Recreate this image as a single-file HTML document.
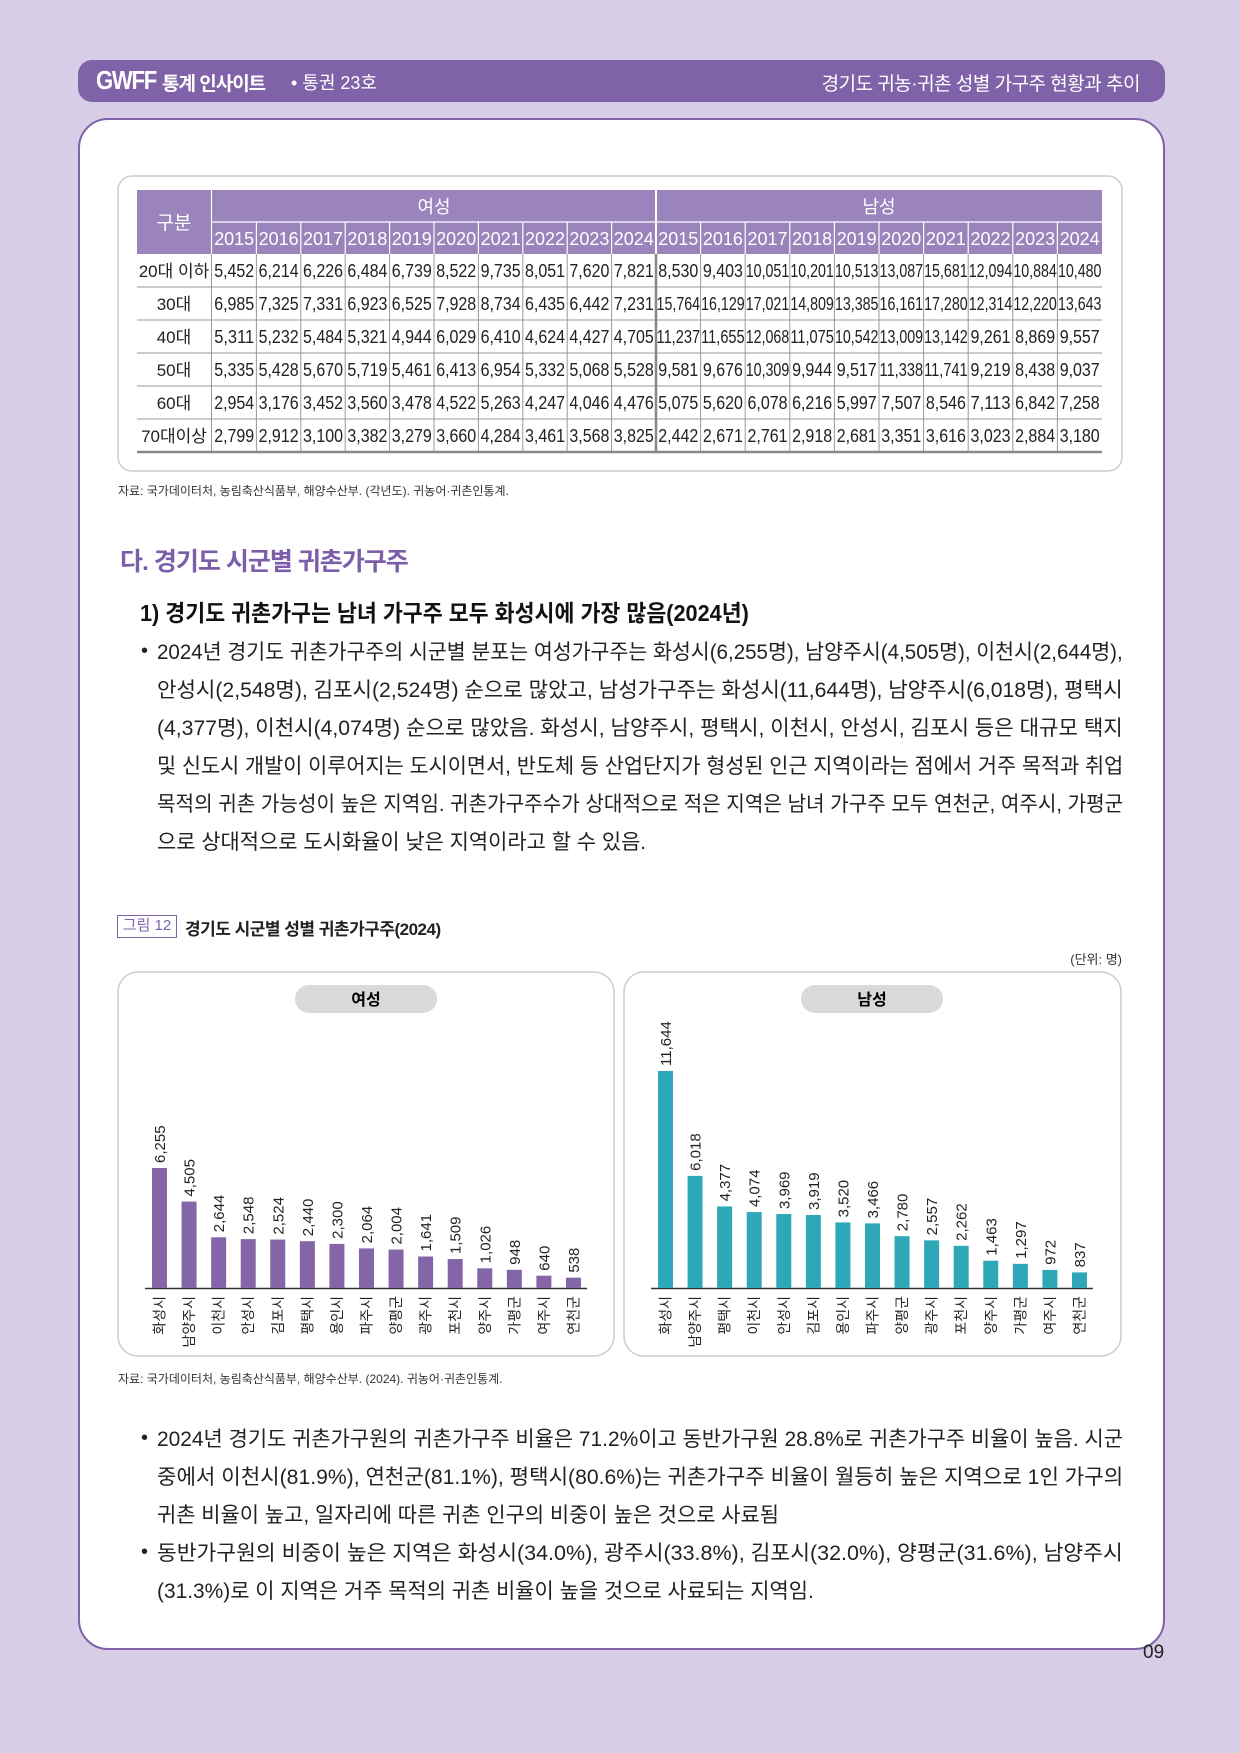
<!DOCTYPE html>
<html><head><meta charset="utf-8">
<style>
*{margin:0;padding:0;box-sizing:border-box}
body{width:1240px;height:1753px;background:#d8cde6;position:relative;overflow:hidden;font-family:"Liberation Sans","Noto Sans CJK KR",sans-serif;color:#222}
.hdr{position:absolute;left:78px;top:60px;width:1087px;height:42px;background:#8062a8;border-radius:14px}
.panel{position:absolute;left:78px;top:118px;width:1087px;height:1532px;background:#fff;border:2px solid #8062a8;border-radius:30px}
.ln{position:absolute;white-space:nowrap;transform-origin:0 50%;font-size:21px;line-height:26px;color:#222}
.abs{position:absolute;white-space:nowrap}
</style></head><body>
<div class="hdr"></div>
<div class="abs" style="left:96px;top:65px;color:#fff;font-size:26px;font-weight:900;letter-spacing:-1.5px;transform:scaleX(.85);transform-origin:0 0">GWFF</div>
<div class="abs" style="left:162px;top:69px;color:#fff;font-size:19px;font-weight:bold;letter-spacing:-1px">통계 인사이트</div>
<div class="abs" style="left:291px;top:69px;color:#fff;font-size:18px">• 통권 23호</div>
<div class="abs" style="right:100px;top:69px;color:#fff;font-size:19px;letter-spacing:-0.5px">경기도 귀농·귀촌 성별 가구주 현황과 추이</div>
<div class="panel"></div>

<svg class="abs" style="left:0;top:0" width="1240" height="500" font-family="Liberation Sans, Noto Sans CJK KR, sans-serif">
<rect x="118" y="176" width="1004" height="295" rx="14" fill="#fff" stroke="#ccc" stroke-width="1.5"/>
<rect x="137" y="190" width="965" height="64" fill="#9b84bc"/>
<g id="tbl"></g>
</svg>
<div class="abs" style="left:118px;top:482px;font-size:12px;color:#333">자료: 국가데이터처, 농림축산식품부, 해양수산부. (각년도). 귀농어·귀촌인통계.</div>

<div class="abs" style="left:120px;top:542px;font-size:25px;font-weight:bold;color:#7b5ea7;letter-spacing:-1px">다. 경기도 시군별 귀촌가구주</div>
<div class="ln" data-w="609" style="left:140px;top:600px;font-size:23px;font-weight:bold;color:#111">1) 경기도 귀촌가구는 남녀 가구주 모두 화성시에 가장 많음(2024년)</div>

<div class="abs" style="left:141px;top:640px;font-size:20px">•</div>
<div class="ln" data-w="966" style="left:157px;top:640px">2024년 경기도 귀촌가구주의 시군별 분포는 여성가구주는 화성시(6,255명), 남양주시(4,505명), 이천시(2,644명),</div>
<div class="ln" data-w="966" style="left:157px;top:678px">안성시(2,548명), 김포시(2,524명) 순으로 많았고, 남성가구주는 화성시(11,644명), 남양주시(6,018명), 평택시</div>
<div class="ln" data-w="966" style="left:157px;top:716px">(4,377명), 이천시(4,074명) 순으로 많았음. 화성시, 남양주시, 평택시, 이천시, 안성시, 김포시 등은 대규모 택지</div>
<div class="ln" data-w="966" style="left:157px;top:754px">및 신도시 개발이 이루어지는 도시이면서, 반도체 등 산업단지가 형성된 인근 지역이라는 점에서 거주 목적과 취업</div>
<div class="ln" data-w="966" style="left:157px;top:792px">목적의 귀촌 가능성이 높은 지역임. 귀촌가구주수가 상대적으로 적은 지역은 남녀 가구주 모두 연천군, 여주시, 가평군</div>
<div class="ln last" style="left:157px;top:830px">으로 상대적으로 도시화율이 낮은 지역이라고 할 수 있음.</div>

<div class="abs" style="left:117px;top:915px;width:60px;height:23px;border:1.5px solid #8062a8;color:#8062a8;font-size:15px;text-align:center;line-height:20px">그림 12</div>
<div class="abs" style="left:185px;top:915px;font-size:17px;font-weight:bold;letter-spacing:-0.5px">경기도 시군별 성별 귀촌가구주(2024)</div>
<div class="abs" style="right:118px;top:949px;font-size:13px;color:#333">(단위: 명)</div>

<svg class="abs" style="left:0;top:960px" width="1240" height="410" font-family="Liberation Sans, Noto Sans CJK KR, sans-serif">
<g transform="translate(0,-960)">
<rect x="118" y="972" width="496" height="384" rx="20" fill="#fff" stroke="#ccc" stroke-width="1.5"/>
<rect x="624" y="972" width="497" height="384" rx="20" fill="#fff" stroke="#ccc" stroke-width="1.5"/>
<rect x="295" y="985" width="142" height="28" rx="14" fill="#d9d9d9"/>
<rect x="801" y="985" width="142" height="28" rx="14" fill="#d9d9d9"/>
<text x="366" y="1005" font-size="16" font-weight="bold" text-anchor="middle">여성</text>
<text x="872" y="1005" font-size="16" font-weight="bold" text-anchor="middle">남성</text>
<line x1="145" y1="1288.5" x2="587" y2="1288.5" stroke="#333" stroke-width="1.5"/>
<line x1="651" y1="1288.5" x2="1093" y2="1288.5" stroke="#333" stroke-width="1.5"/>
<g id="charts"></g>
</g>
</svg>
<div class="abs" style="left:118px;top:1370px;font-size:12px;color:#333">자료: 국가데이터처, 농림축산식품부, 해양수산부. (2024). 귀농어·귀촌인통계.</div>

<div class="abs" style="left:141px;top:1427px;font-size:20px">•</div>
<div class="ln" data-w="966" style="left:157px;top:1427px">2024년 경기도 귀촌가구원의 귀촌가구주 비율은 71.2%이고 동반가구원 28.8%로 귀촌가구주 비율이 높음. 시군</div>
<div class="ln" data-w="966" style="left:157px;top:1465px">중에서 이천시(81.9%), 연천군(81.1%), 평택시(80.6%)는 귀촌가구주 비율이 월등히 높은 지역으로 1인 가구의</div>
<div class="ln last" style="left:157px;top:1503px">귀촌 비율이 높고, 일자리에 따른 귀촌 인구의 비중이 높은 것으로 사료됨</div>
<div class="abs" style="left:141px;top:1541px;font-size:20px">•</div>
<div class="ln" data-w="966" style="left:157px;top:1541px">동반가구원의 비중이 높은 지역은 화성시(34.0%), 광주시(33.8%), 김포시(32.0%), 양평군(31.6%), 남양주시</div>
<div class="ln last" style="left:157px;top:1579px">(31.3%)로 이 지역은 거주 목적의 귀촌 비율이 높을 것으로 사료되는 지역임.</div>

<div class="abs" style="left:1143px;top:1642px;font-size:19px;color:#222">09</div>

<script>
(function(){
var NS="http://www.w3.org/2000/svg";
function T(p,x,y,s,a){var t=document.createElementNS(NS,"text");t.setAttribute("x",x);t.setAttribute("y",y);for(var k in a)t.setAttribute(k,a[k]);t.textContent=s;p.appendChild(t);return t;}
function L(p,x1,y1,x2,y2,c,w){var l=document.createElementNS(NS,"line");l.setAttribute("x1",x1);l.setAttribute("y1",y1);l.setAttribute("x2",x2);l.setAttribute("y2",y2);l.setAttribute("stroke",c);l.setAttribute("stroke-width",w);p.appendChild(l);}
function R(p,x,y,w,h,c){var r=document.createElementNS(NS,"rect");r.setAttribute("x",x);r.setAttribute("y",y);r.setAttribute("width",w);r.setAttribute("height",h);r.setAttribute("fill",c);p.appendChild(r);}
var g=document.getElementById("tbl");
var rows=[["20대 이하",[5452,6214,6226,6484,6739,8522,9735,8051,7620,7821,8530,9403,10051,10201,10513,13087,15681,12094,10884,10480]],
["30대",[6985,7325,7331,6923,6525,7928,8734,6435,6442,7231,15764,16129,17021,14809,13385,16161,17280,12314,12220,13643]],
["40대",[5311,5232,5484,5321,4944,6029,6410,4624,4427,4705,11237,11655,12068,11075,10542,13009,13142,9261,8869,9557]],
["50대",[5335,5428,5670,5719,5461,6413,6954,5332,5068,5528,9581,9676,10309,9944,9517,11338,11741,9219,8438,9037]],
["60대",[2954,3176,3452,3560,3478,4522,5263,4247,4046,4476,5075,5620,6078,6216,5997,7507,8546,7113,6842,7258]],
["70대이상",[2799,2912,3100,3382,3279,3660,4284,3461,3568,3825,2442,2671,2761,2918,2681,3351,3616,3023,2884,3180]]];
function cx(i){return i<10?212+44.4*i:656+44.6*(i-10);}
function cw(i){return i<10?44.4:44.6;}
T(g,174,229,"구분",{"font-size":19,fill:"#fff","text-anchor":"middle"});
T(g,434,213,"여성",{"font-size":18,fill:"#fff","text-anchor":"middle"});
T(g,879,213,"남성",{"font-size":18,fill:"#fff","text-anchor":"middle"});
L(g,212,222,1102,222,"#fff",1.2);
L(g,211.5,190,211.5,254,"#fff",1.2);
for(var i=0;i<20;i++){var yr=2015+(i%10);
 if(i>0)L(g,cx(i),222,cx(i),254,"#fff",1.2);
 T(g,cx(i)+cw(i)/2,245,String(yr),{"font-size":18,fill:"#fff","text-anchor":"middle",textLength:40,lengthAdjust:"spacingAndGlyphs"});}
L(g,656,190,656,254,"#fff",2);
for(var r=0;r<6;r++){var y0=254+33*r;
 T(g,174,y0+23,rows[r][0],{"font-size":17,"text-anchor":"middle",fill:"#222"});
 for(var i=0;i<20;i++){var s=rows[r][1][i].toLocaleString("en-US");
  var tl=Math.min(s.length*8,43.5);
  T(g,cx(i)+cw(i)/2,y0+23,s,{"font-size":18,"text-anchor":"middle",fill:"#222",textLength:tl,lengthAdjust:"spacingAndGlyphs"});}
 if(r>0)L(g,137,y0,1102,y0,"#999",1);}
for(var i=0;i<20;i++){var x=i==0?211.5:cx(i);L(g,x,254,x,452,"#999",1);}
L(g,656,254,656,452,"#888",2.5);
L(g,137,452,1102,452,"#888",2.5);
var c=document.getElementById("charts");
var cities1=["화성시","남양주시","이천시","안성시","김포시","평택시","용인시","파주시","양평군","광주시","포천시","양주시","가평군","여주시","연천군"];
var v1=[6255,4505,2644,2548,2524,2440,2300,2064,2004,1641,1509,1026,948,640,538];
var cities2=["화성시","남양주시","평택시","이천시","안성시","김포시","용인시","파주시","양평군","광주시","포천시","양주시","가평군","여주시","연천군"];
var v2=[11644,6018,4377,4074,3969,3919,3520,3466,2780,2557,2262,1463,1297,972,837];
function chart(x0,sc,cities,vals,col){
 for(var i=0;i<15;i++){var x=x0+29.57*i,h=vals[i]*sc,top=1288-h,mx=x+7.5;
  R(c,x,top,15,h,col);
  T(c,0,0,vals[i].toLocaleString("en-US"),{"font-size":15,"text-anchor":"start",fill:"#222",transform:"translate("+(mx+5.5)+","+(top-5)+") rotate(-90)"});
  T(c,0,0,cities[i],{"font-size":14,"text-anchor":"end",fill:"#222",transform:"translate("+(mx+5)+",1296) rotate(-90)"});}
}
chart(152,120/6255,cities1,v1,"#8466a8");
chart(658,217/11644,cities2,v2,"#2ea8b8");
var lns=document.querySelectorAll(".ln"),sum=0,n=0;
lns.forEach(function(e){var w=e.getAttribute("data-w");if(w){var s=w/e.scrollWidth;e.style.transform="scaleX("+s+")";if(e.style.fontWeight!="bold"){sum+=s;n++;}}});
var avg=n?sum/n:1;
lns.forEach(function(e){if(e.classList.contains("last"))e.style.transform="scaleX("+avg+")";});
})();
</script>
</body></html>
